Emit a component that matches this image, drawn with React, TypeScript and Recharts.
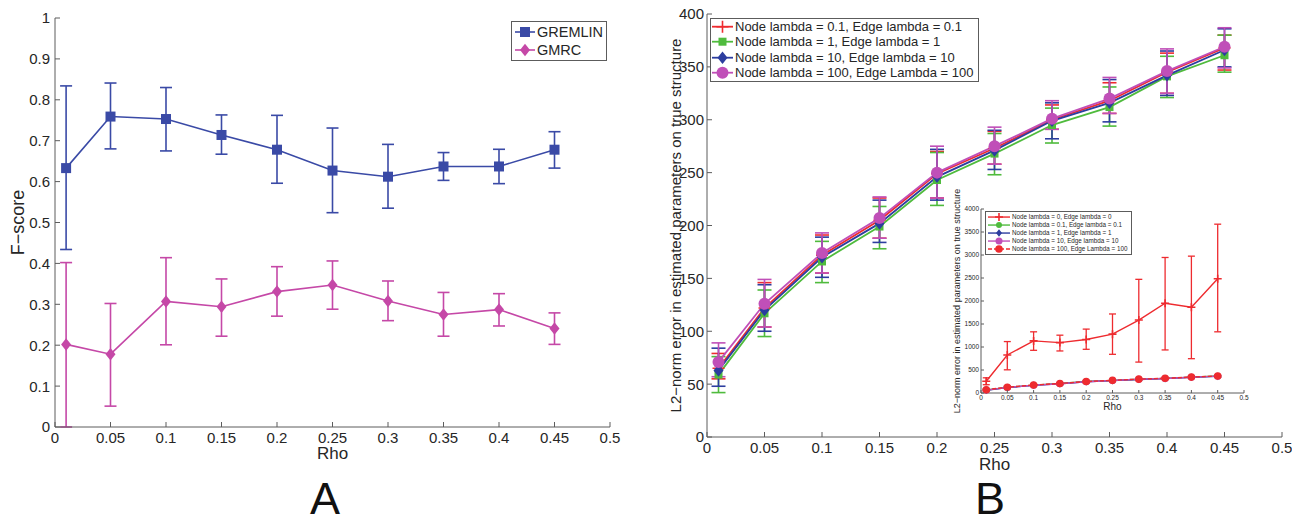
import { ErrorBar, Legend, Line, LineChart, XAxis, YAxis } from 'recharts'

const FONT = '"Liberation Sans", Arial, Helvetica, sans-serif'
const INK = '#262626'
const AXIS = '#5c5c5c'

const RED = '#ee2b2f'
const GREEN = '#4fbb3d'
const BLUE = '#2c3d9f'
const MAGENTA = '#c04fb8'

// shared x values and ticks
const RHO = [0.01, 0.05, 0.1, 0.15, 0.2, 0.25, 0.3, 0.35, 0.4, 0.45]
const RHO_TICKS = [0, 0.05, 0.1, 0.15, 0.2, 0.25, 0.3, 0.35, 0.4, 0.45, 0.5]
const FSCORE_TICKS = [0, 0.1, 0.2, 0.3, 0.4, 0.5, 0.6, 0.7, 0.8, 0.9, 1]
const L2_TICKS = [0, 50, 100, 150, 200, 250, 300, 350, 400]
const INSET_TICKS = [0, 500, 1000, 1500, 2000, 2500, 3000, 3500, 4000]

// panel A (F-score)
const GREMLIN = [0.633, 0.759, 0.753, 0.714, 0.678, 0.627, 0.612, 0.637, 0.637, 0.678]
const GREMLIN_LO = [0.434, 0.68, 0.675, 0.667, 0.596, 0.524, 0.535, 0.603, 0.595, 0.633]
const GREMLIN_HI = [0.834, 0.841, 0.83, 0.763, 0.762, 0.731, 0.691, 0.671, 0.679, 0.722]
const GMRC = [0.202, 0.178, 0.307, 0.294, 0.331, 0.347, 0.308, 0.275, 0.287, 0.241]
const GMRC_LO = [0, 0.051, 0.201, 0.222, 0.271, 0.288, 0.26, 0.222, 0.247, 0.202]
const GMRC_HI = [0.402, 0.302, 0.414, 0.362, 0.392, 0.406, 0.357, 0.329, 0.326, 0.279]

// panel B (L2 error), one set per lambda
const LAM01 = [65, 122, 172, 205, 249, 273, 300, 318, 345, 368]
const LAM01_LO = [55, 104, 155, 188, 226, 258, 291, 306, 325, 347]
const LAM01_HI = [79, 146, 191, 226, 270, 289, 314, 335, 363, 380]
const LAM1 = [59, 117, 166, 199, 243, 268, 295, 312, 341, 361]
const LAM1_LO = [42, 95, 146, 178, 219, 248, 278, 294, 321, 345]
const LAM1_HI = [76, 139, 185, 218, 269, 287, 311, 331, 360, 380]
const LAM10 = [63, 120, 170, 202, 246, 271, 299, 316, 342, 366]
const LAM10_LO = [48, 100, 151, 184, 224, 253, 282, 298, 323, 350]
const LAM10_HI = [84, 144, 189, 224, 272, 290, 316, 338, 365, 386]
const LAM100 = [71, 126, 174, 207, 250, 275, 301, 320, 346, 369]
const LAM100_LO = [57, 104, 155, 188, 226, 258, 291, 306, 325, 349]
const LAM100_HI = [89, 149, 193, 227, 275, 293, 318, 340, 367, 387]
// inset only: no regularisation
const LAM0 = [256, 826, 1133, 1096, 1162, 1279, 1586, 1952, 1864, 2485]
const LAM0_LO = [180, 504, 928, 914, 950, 841, 672, 936, 746, 1330]
const LAM0_HI = [330, 1118, 1330, 1257, 1389, 1718, 2471, 2946, 2975, 3670]

const Y_LABEL_B = 'L2\u2212norm error in estimated parameters on true structure'

type Shape = 'square' | 'diamond' | 'circle' | 'plus'
type Series = {
  key: string
  label: string
  color: string
  shape: Shape
  size: number
  dash?: string
  vals: number[]
  lo: number[]
  hi: number[]
}

const SERIES_A: Series[] = [
  { key: 'gremlin', label: 'GREMLIN', color: '#3a4aa6', shape: 'square', size: 5, vals: GREMLIN, lo: GREMLIN_LO, hi: GREMLIN_HI },
  { key: 'gmrc', label: 'GMRC', color: '#c548a7', shape: 'diamond', size: 5, vals: GMRC, lo: GMRC_LO, hi: GMRC_HI },
]

const SERIES_B: Series[] = [
  { key: 'l01', label: 'Node lambda = 0.1, Edge lambda = 0.1', color: RED, shape: 'plus', size: 6, vals: LAM01, lo: LAM01_LO, hi: LAM01_HI },
  { key: 'l1', label: 'Node lambda = 1, Edge lambda = 1', color: GREEN, shape: 'square', size: 4, vals: LAM1, lo: LAM1_LO, hi: LAM1_HI },
  { key: 'l10', label: 'Node lambda = 10, Edge lambda = 10', color: BLUE, shape: 'diamond', size: 5, vals: LAM10, lo: LAM10_LO, hi: LAM10_HI },
  { key: 'l100', label: 'Node lambda = 100, Edge Lambda = 100', color: MAGENTA, shape: 'circle', size: 6, vals: LAM100, lo: LAM100_LO, hi: LAM100_HI },
]

const SERIES_INSET: Series[] = [
  { key: 'l0', label: 'Node lambda = 0, Edge lambda = 0', color: RED, shape: 'plus', size: 4, vals: LAM0, lo: LAM0_LO, hi: LAM0_HI },
  { key: 'l01', label: 'Node lambda = 0.1, Edge lambda = 0.1', color: GREEN, shape: 'circle', size: 3, vals: LAM01, lo: LAM01_LO, hi: LAM01_HI },
  { key: 'l1', label: 'Node lambda = 1, Edge lambda = 1', color: BLUE, shape: 'diamond', size: 3, vals: LAM1, lo: LAM1_LO, hi: LAM1_HI },
  { key: 'l10', label: 'Node lambda = 10, Edge lambda = 10', color: MAGENTA, shape: 'circle', size: 3.5, vals: LAM10, lo: LAM10_LO, hi: LAM10_HI },
  { key: 'l100', label: 'Node lambda = 100, Edge Lambda = 100', color: RED, shape: 'circle', size: 3.8, dash: '4 2', vals: LAM100, lo: LAM100_LO, hi: LAM100_HI },
]

function buildRows(series: Series[]) {
  return RHO.map((rho, i) => {
    const row: Record<string, any> = { rho }
    for (const s of series) {
      row[s.key] = s.vals[i]
      row[s.key + 'Err'] = [s.vals[i] - s.lo[i], s.hi[i] - s.vals[i]]
    }
    return row
  })
}

function Marker({ shape, cx, cy, size, color }: { shape: Shape; cx: number; cy: number; size: number; color: string }) {
  if (shape === 'square') return <rect x={cx - size} y={cy - size} width={size * 2} height={size * 2} fill={color} />
  if (shape === 'diamond')
    return <polygon points={`${cx},${cy - size * 1.25} ${cx + size},${cy} ${cx},${cy + size * 1.25} ${cx - size},${cy}`} fill={color} />
  if (shape === 'circle') return <circle cx={cx} cy={cy} r={size} fill={color} />
  return <path d={`M${cx - size},${cy}H${cx + size}M${cx},${cy - size}V${cy + size}`} stroke={color} strokeWidth={1.6} fill="none" />
}

// Matlab-style ticks: tick marks point into the plot
function AxisTick(props: any) {
  const { x, y, payload, side, fs, len, gap } = props
  if (side === 'x') {
    return (
      <g>
        <line x1={x} x2={x} y1={y} y2={y - len} stroke={AXIS} />
        <text x={x} y={y + gap + fs * 0.72} textAnchor="middle" fontSize={fs} fill={INK} fontFamily={FONT}>
          {payload.value}
        </text>
      </g>
    )
  }
  return (
    <g>
      <line x1={x} x2={x + len} y1={y} y2={y} stroke={AXIS} />
      <text x={x - gap} y={y + fs * 0.36} textAnchor="end" fontSize={fs} fill={INK} fontFamily={FONT}>
        {payload.value}
      </text>
    </g>
  )
}

function LegendBox({ series, fs, rowH, sampleW, pad, lw }: { series: Series[]; fs: number; rowH: number; sampleW: number; pad: string; lw: number }) {
  return (
    <div style={{ border: `1px solid ${AXIS}`, background: '#fff', padding: pad, fontFamily: FONT, fontSize: fs, color: INK, whiteSpace: 'nowrap' }}>
      {series.map((s) => (
        <div key={s.key} style={{ display: 'flex', alignItems: 'center', height: rowH }}>
          <svg width={sampleW} height={rowH} style={{ display: 'block' }}>
            <line x1={0} x2={sampleW} y1={rowH / 2} y2={rowH / 2} stroke={s.color} strokeWidth={lw} strokeDasharray={s.dash} />
            <Marker shape={s.shape} cx={sampleW / 2} cy={rowH / 2} size={s.size} color={s.color} />
          </svg>
          <span style={{ marginLeft: 2, lineHeight: `${rowH}px` }}>{s.label}</span>
        </div>
      ))}
    </div>
  )
}

function renderSeries(series: Series[], lw: number, cap: number, ebw: number) {
  return series.map((s) => (
    <Line
      key={s.key}
      type="linear"
      dataKey={s.key}
      stroke={s.color}
      strokeWidth={lw}
      strokeDasharray={s.dash}
      isAnimationActive={false}
      activeDot={false}
      dot={(p: any) => <Marker key={`${s.key}-${p.index}`} shape={s.shape} cx={p.cx} cy={p.cy} size={s.size} color={s.color} />}
    >
      <ErrorBar dataKey={s.key + 'Err'} direction="y" width={cap} strokeWidth={ebw} stroke={s.color} isAnimationActive={false} />
    </Line>
  ))
}

const rowsA = buildRows(SERIES_A)
const rowsB = buildRows(SERIES_B)
const rowsInset = buildRows(SERIES_INSET)

function PanelA() {
  return (
    <LineChart width={640} height={480} data={rowsA} margin={{ top: 18, right: 30, bottom: 13, left: 0 }}>
      <XAxis
        type="number"
        dataKey="rho"
        domain={[0, 0.5]}
        ticks={RHO_TICKS}
        height={40}
        tickSize={0}
        tickMargin={0}
        tickLine={false}
        interval={0}
        stroke={AXIS}
        tick={(p: any) => <AxisTick {...p} side="x" fs={15} len={5} gap={5} />}
        label={{ value: 'Rho', position: 'insideTop', offset: 20, fontSize: 17, fill: INK, fontFamily: FONT }}
      />
      <YAxis
        type="number"
        domain={[0, 1]}
        ticks={FSCORE_TICKS}
        width={55}
        tickSize={0}
        tickMargin={0}
        tickLine={false}
        interval={0}
        stroke={AXIS}
        tick={(p: any) => <AxisTick {...p} side="y" fs={15} len={5} gap={5} />}
        label={{ value: 'F\u2212score', angle: -90, position: 'insideLeft', offset: 18, fontSize: 18, fill: INK, fontFamily: FONT, style: { textAnchor: 'middle' } }}
      />
      {renderSeries(SERIES_A, 1.6, 6, 1.6)}
      <Legend
        layout="vertical"
        align="center"
        verticalAlign="middle"
        wrapperStyle={{ left: 511, top: 21, width: 'auto', height: 'auto' }}
        content={() => <LegendBox series={SERIES_A} fs={14.5} rowH={18} sampleW={20} pad="1px 3px 1px 3px" lw={1.6} />}
      />
    </LineChart>
  )
}

function PanelB() {
  return (
    <LineChart width={642} height={480} data={rowsB} margin={{ top: 14, right: 10, bottom: 3, left: 0 }}>
      <XAxis
        type="number"
        dataKey="rho"
        domain={[0, 0.5]}
        ticks={RHO_TICKS}
        height={40}
        tickSize={0}
        tickMargin={0}
        tickLine={false}
        interval={0}
        stroke={AXIS}
        tick={(p: any) => <AxisTick {...p} side="x" fs={15} len={5} gap={5.5} />}
        label={{ value: 'Rho', position: 'insideTop', offset: 21, fontSize: 17, fill: INK, fontFamily: FONT }}
      />
      <YAxis
        type="number"
        domain={[0, 400]}
        ticks={L2_TICKS}
        width={57}
        tickSize={0}
        tickMargin={0}
        tickLine={false}
        interval={0}
        stroke={AXIS}
        tick={(p: any) => <AxisTick {...p} side="y" fs={15} len={5} gap={3} />}
        label={{ value: Y_LABEL_B, angle: -90, position: 'insideLeft', offset: 26, fontSize: 15, fill: INK, fontFamily: FONT, style: { textAnchor: 'middle' } }}
      />
      {renderSeries(SERIES_B, 1.8, 7, 1.6)}
      <Legend
        layout="vertical"
        align="center"
        verticalAlign="middle"
        wrapperStyle={{ left: 60, top: 18, width: 'auto', height: 'auto' }}
        content={() => <LegendBox series={SERIES_B} fs={13} rowH={15.4} sampleW={21} pad="0px 4px 0px 1px" lw={1.8} />}
      />
    </LineChart>
  )
}

// inset sits on top of panel B; tall top margin leaves room for its rotated label
function Inset() {
  return (
    <LineChart width={312} height={255} data={rowsInset} margin={{ top: 34, right: 8, bottom: 17, left: 0 }}>
      <XAxis
        type="number"
        dataKey="rho"
        domain={[0, 0.5]}
        ticks={RHO_TICKS}
        height={20}
        tickSize={0}
        tickMargin={0}
        tickLine={false}
        interval={0}
        stroke={AXIS}
        tick={(p: any) => <AxisTick {...p} side="x" fs={6.5} len={3} gap={2} />}
        label={{ value: 'Rho', position: 'insideTop', offset: 10, fontSize: 10, fill: INK, fontFamily: FONT }}
      />
      <YAxis
        type="number"
        domain={[0, 4000]}
        ticks={INSET_TICKS}
        width={41}
        tickSize={0}
        tickMargin={0}
        tickLine={false}
        interval={0}
        stroke={AXIS}
        tick={(p: any) => <AxisTick {...p} side="y" fs={6.5} len={3} gap={2} />}
        label={{ value: Y_LABEL_B, angle: -90, position: 'insideLeft', offset: 17, fontSize: 9, fill: INK, fontFamily: FONT, style: { textAnchor: 'middle' } }}
      />
      {renderSeries(SERIES_INSET, 1.4, 3.5, 1.3)}
      <Legend
        layout="vertical"
        align="center"
        verticalAlign="middle"
        wrapperStyle={{ left: 45, top: 36, width: 'auto', height: 'auto' }}
        content={() => <LegendBox series={SERIES_INSET} fs={6.3} rowH={8.1} sampleW={22} pad="1px 3px 1px 2px" lw={1.4} />}
      />
    </LineChart>
  )
}

const letterStyle: React.CSSProperties = {
  position: 'absolute',
  top: 482,
  fontFamily: FONT,
  fontSize: 45,
  lineHeight: '34px',
  color: '#111',
  transform: 'translateX(-50%)',
}

export default function App() {
  return (
    <div style={{ position: 'absolute', left: 0, top: 0, width: 1292, height: 521, background: '#fff', overflow: 'hidden' }}>
      <div style={{ position: 'absolute', left: 0, top: 0 }}>
        <PanelA />
      </div>
      <div style={{ position: 'absolute', left: 650, top: 0 }}>
        <PanelB />
      </div>
      <div style={{ position: 'absolute', left: 940, top: 175 }}>
        <Inset />
      </div>
      <div style={{ ...letterStyle, left: 325 }}>A</div>
      <div style={{ ...letterStyle, left: 990 }}>B</div>
    </div>
  )
}
